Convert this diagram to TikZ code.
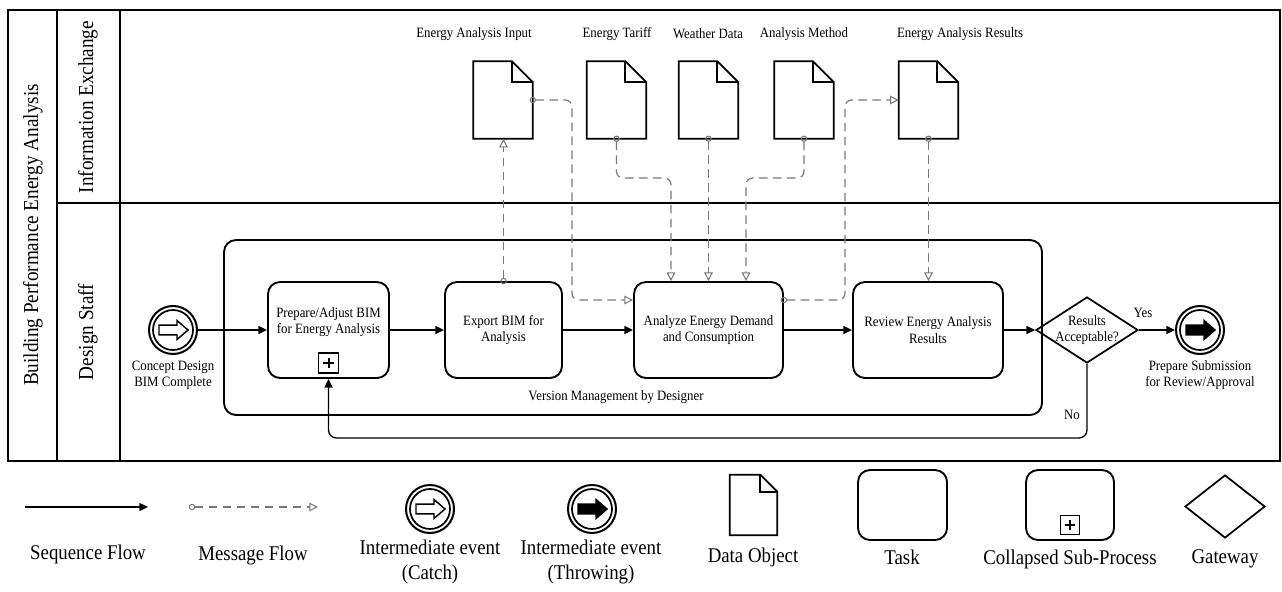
\documentclass[tikz,border=0pt]{standalone}
\usepackage{fontspec}
\setmainfont[FakeStretch=0.9]{Liberation Serif}
\usetikzlibrary{arrows.meta,shapes.geometric}
\definecolor{msggray}{RGB}{120,120,120}
\newcommand{\fsmall}{\fontsize{10.7pt}{12.3pt}\selectfont}
\newcommand{\flane}{\fontsize{16pt}{18pt}\selectfont}
\newcommand{\flegend}{\fontsize{15.7pt}{18.6pt}\selectfont}
\newcommand{\docshape}[2]{%
  \draw[docline] (#1.north west) -- ([xshift=-#2]#1.north east) -- ([yshift=-#2]#1.north east) -- (#1.south east) -- (#1.south west) -- cycle;
  \draw[docline] ([xshift=-#2]#1.north east) -- ([xshift=-#2,yshift=-#2]#1.north east) -- ([yshift=-#2]#1.north east);}
\newcommand{\plusmark}[2]{%
  \draw[line width=1.5pt] ([xshift=-#2]#1.center) -- ([xshift=#2]#1.center);
  \draw[line width=1.5pt] ([yshift=-#2]#1.center) -- ([yshift=#2]#1.center);}
\begin{document}
\begin{tikzpicture}[x=0.75pt,y=-0.75pt,
  pool/.style={line width=1.4pt},
  task/.style={draw, line width=1.4pt, rounded corners=9pt, minimum height=72pt, align=center, font=\fsmall, inner sep=2pt},
  grp/.style={draw, line width=1.4pt, rounded corners=9pt, inner sep=0pt},
  docnode/.style={inner sep=0pt, minimum width=44.25pt, minimum height=57.75pt},
  docline/.style={line width=1.3pt, line join=miter},
  event/.style={draw, circle, line width=1.5pt, minimum size=36pt, inner sep=0pt},
  marker/.style={draw, line width=1.2pt, minimum size=15pt, inner sep=0pt},
  gateway/.style={draw, diamond, line width=1.3pt, inner sep=0pt},
  txt/.style={font=\fsmall, align=center, inner sep=1pt},
  legtxt/.style={font=\flegend, align=center, inner sep=1pt},
  seq/.style={line width=1pt, -{Triangle[length=6.5pt,width=6pt]}},
  msg/.style={line width=0.9pt, draw=msggray, dash pattern=on 6.5pt off 4pt, rounded corners=5pt,
    {Circle[open,length=4.8pt,width=4.8pt,line width=0.8pt]}-{Triangle[open,length=6.5pt,width=6.5pt,line width=0.8pt]},
    shorten <=-2.4pt},
  evarrow/.pic={\draw[line width=1.1pt, line join=miter, pic actions] (-14,-4.8) -- (4,-4.8) -- (4,-9.5) -- (15,0) -- (4,9.5) -- (4,4.8) -- (-14,4.8) -- cycle;}
]
\useasboundingbox (0,0) rectangle (1282,592);

% pool and lanes
\draw[pool] (8,10) rectangle (1280,461);
\draw[pool] (57,10) -- (57,461);
\draw[pool] (120,10) -- (120,461);
\draw[pool] (57,203) -- (1280,203);
\node[rotate=90, font=\flane] (pooltitle) at (33,235) {Building Performance Energy Analysis};
\node[rotate=90, font=\flane] (laneinfo) at (88,107) {Information Exchange};
\node[rotate=90, font=\flane] (lanedesign) at (88,332) {Design Staff};

% data objects
\node[docnode] (dIn) at (503,100) {};
\node[docnode] (dTar) at (616.5,100) {};
\node[docnode] (dWea) at (708.5,100) {};
\node[docnode] (dMet) at (804,100) {};
\node[docnode] (dRes) at (928.5,100) {};
\docshape{dIn}{15.75pt}
\docshape{dTar}{15.75pt}
\docshape{dWea}{15.75pt}
\docshape{dMet}{15.75pt}
\docshape{dRes}{15.75pt}
\node[txt] (lIn) at (474,34) {Energy Analysis Input};
\node[txt] (lTar) at (617,34) {Energy Tariff};
\node[txt] (lWea) at (708,34) {Weather Data};
\node[txt] (lMet) at (804,34) {Analysis Method};
\node[txt] (lRes) at (960,34) {Energy Analysis Results};

% group
\node[grp, minimum width=613.5pt, minimum height=131.25pt] (group) at (633,327.5) {};
\node[txt] (grplabel) at (616,397) {Version Management by Designer};

% events
\node[event] (catch) at (173,330) {};
\draw[line width=1.3pt] (catch.center) circle[radius=20];
\pic[fill=white] at (catch) {evarrow};
\node[txt] (catchlabel) at (173,375) {Concept Design\\BIM Complete};

\node[event] (throw) at (1200,330) {};
\draw[line width=1.3pt] (throw.center) circle[radius=20];
\pic[fill=black] at (throw) {evarrow};
\node[txt] (throwlabel) at (1200,375) {Prepare Submission\\for Review/Approval};

% tasks
\node[task, minimum width=90.75pt] (prep) at (328.5,330) {};
\node[txt] (preptext) at (328.5,322) {Prepare/Adjust BIM\\for Energy Analysis};
\node[marker] (prepm) at (328.5,363) {};
\plusmark{prepm}{3.8pt}
\node[task, minimum width=87.75pt] (export) at (503.5,330) {Export BIM for\\Analysis};
\node[task, minimum width=111.75pt] (analyze) at (708.5,330) {Analyze Energy Demand\\and Consumption};
\node[task, minimum width=112.5pt] (review) at (928,330) {Review Energy Analysis\\Results};

% gateway
\node[gateway, minimum width=76.5pt, minimum height=49.5pt] (gw) at (1087,330) {};
\node[txt] (gwtext) at (1087,330) {Results\\Acceptable?};

% sequence flows
\draw[seq] (catch) -- (prep);
\draw[seq] (prep) -- (export);
\draw[seq] (export) -- (analyze);
\draw[seq] (analyze) -- (review);
\draw[seq] (review) -- (gw);
\draw[seq] (gw) -- (throw);
\node[txt] (yes) at (1143,313) {Yes};
\coordinate (nocorner) at (1087,438);
\draw[seq, rounded corners=6pt] (gw.south) -- (nocorner) -| (prep.south);
\node[txt] (no) at (1072,415) {No};

% message flows
\draw[msg] (export.north) -- (export.north |- dIn.south);
\coordinate (m2) at (572,300);
\draw[msg] (dIn.east) -| (m2) -- (m2 -| analyze.west);
\coordinate (m3) at (671,178);
\draw[msg] (dTar.south) |- (m3) -- (m3 |- analyze.north);
\draw[msg] (dWea.south) -- (dWea.south |- analyze.north);
\coordinate (m5) at (746,178);
\draw[msg] (dMet.south) |- (m5) -- (m5 |- analyze.north);
\coordinate (m6) at (845,300);
\draw[msg] (m6 -| analyze.east) -| (m6 |- dRes.west) -- (dRes.west);
\draw[msg] (dRes.south) -- (dRes.south |- review.north);

% legend
\coordinate (ls1) at (25,507);
\coordinate (ls2) at (148,507);
\draw[seq] (ls1) -- (ls2);
\node[legtxt] (lgseq) at (88,554) {Sequence Flow};
\coordinate (lm1) at (192,507);
\coordinate (lm2) at (318,507);
\draw[msg] (lm1) -- (lm2);
\node[legtxt] (lgmsg) at (253,555) {Message Flow};

\node[event] (lcatch) at (430,509) {};
\draw[line width=1.3pt] (lcatch.center) circle[radius=20];
\pic[fill=white] at (lcatch) {evarrow};
\node[legtxt] (lgcatch) at (430,562) {Intermediate event\\(Catch)};

\node[event] (lthrow) at (592,509) {};
\draw[line width=1.3pt] (lthrow.center) circle[radius=20];
\pic[fill=black] at (lthrow) {evarrow};
\node[legtxt] (lgthrow) at (591,562) {Intermediate event\\(Throwing)};

\node[docnode, minimum width=35.25pt, minimum height=45pt] (ldoc) at (753.5,505) {};
\docshape{ldoc}{12.75pt}
\node[legtxt] (lgdoc) at (753,557) {Data Object};

\node[task, minimum width=66.75pt, minimum height=52.5pt] (ltask) at (902.5,505) {};
\node[legtxt] (lgtask) at (902,557) {Task};

\node[task, minimum width=66pt, minimum height=52.5pt] (lsub) at (1070,505) {};
\node[marker, minimum size=14pt] (lsubm) at (1070,525) {};
\plusmark{lsubm}{3.5pt}
\node[legtxt] (lgsub) at (1070,559) {Collapsed Sub-Process};

\node[gateway, minimum width=60pt, minimum height=47.25pt] (lgw) at (1225,506.5) {};
\node[legtxt] (lggw) at (1225,559) {Gateway};
\end{tikzpicture}
\end{document}
